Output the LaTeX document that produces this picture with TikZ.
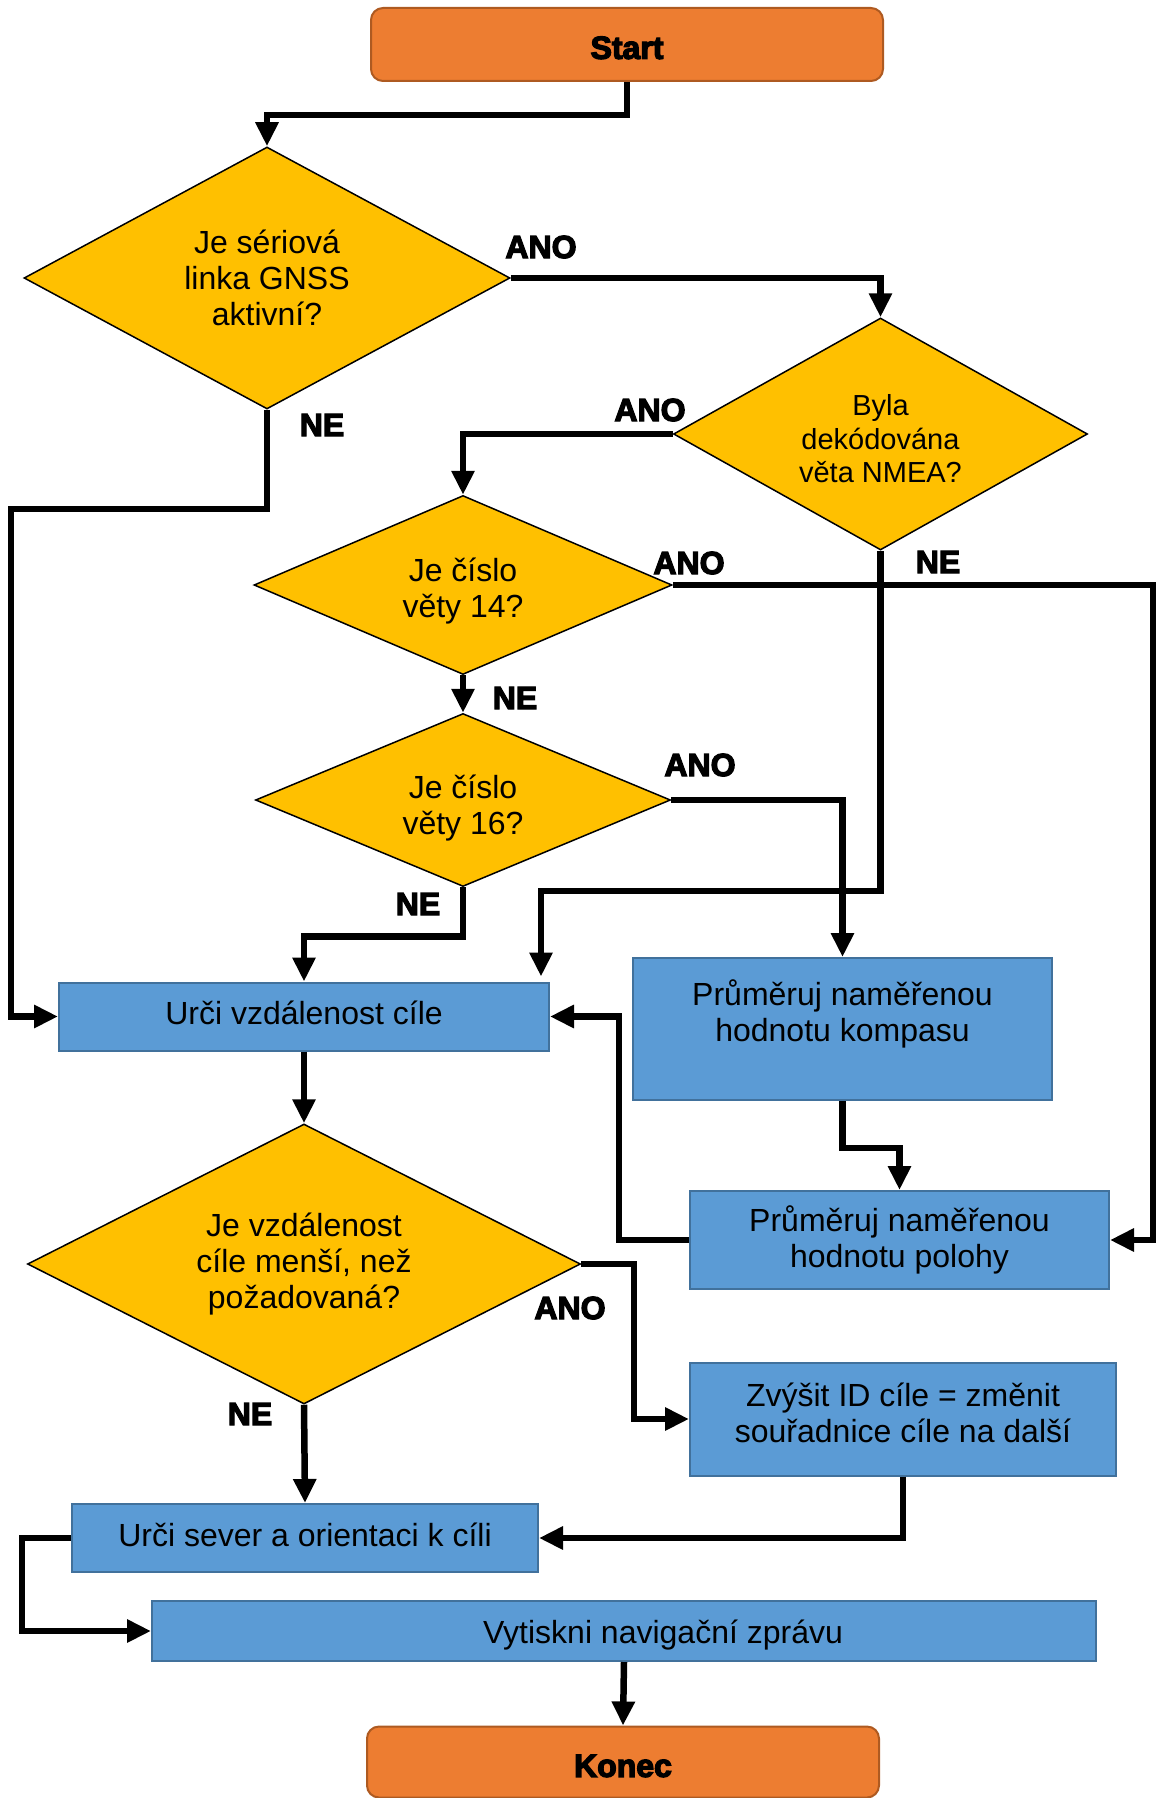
\documentclass[tikz,border=0pt]{standalone}
\usepackage{fontspec}
\setmainfont{Liberation Sans}
\newfontfamily\heavyfont[FakeBold=4]{Liberation Sans Bold}
\usetikzlibrary{
    arrows.meta,      % For the triangle arrow tips
    shapes.geometric  % For the decision diamonds
}

\definecolor{boxorange}{HTML}{ED7D31}
\definecolor{orangeline}{HTML}{AE5A21}
\definecolor{boxblue}{HTML}{5B9BD5}
\definecolor{blueline}{HTML}{41719C}
\definecolor{gold}{HTML}{FFC000}

% Invisible struts to nudge text inside a node
\newcommand{\padtop}[1]{\rule{0pt}{#1}}
\newcommand{\padbottom}[1]{\rule[-#1]{0pt}{0pt}}

\begin{document}
\begin{tikzpicture}[
    x=1pt, y=-1pt, % one unit = one pixel of the original, y pointing down
    font=\fontsize{32}{36}\selectfont,
    process_style/.style={rectangle, draw=blueline, line width=2pt, fill=boxblue, inner sep=0pt, align=center},
    decision_style/.style={diamond, draw=black, line width=1.5pt, fill=gold, inner sep=0pt, align=center},
    terminal_style/.style={rectangle, rounded corners=12pt, draw=orangeline, line width=2pt, fill=boxorange, inner sep=0pt, font=\heavyfont\fontsize{32}{36}\selectfont},
    line_style/.style={line width=6.5pt, -{Triangle[length=24pt,width=22pt]}},
    label_style/.style={font=\heavyfont\fontsize{32}{36}\selectfont}
]
    % Fix the page to the size of the original
    \useasboundingbox (0,0) rectangle (1161,1798);

    % Start and the GNSS checks
    \node[terminal_style, minimum width=512pt, minimum height=73pt] (start) at (627,44.5) {\padtop{29pt}Start};
    \node[decision_style, aspect=1.85, minimum width=486pt, minimum height=262pt] (serial) at (267,278) {Je sériová\\linka GNSS\\aktivní?};
    \node[decision_style, aspect=1.78, minimum width=414pt, minimum height=232pt, font=\fontsize{29}{33.5}\selectfont] (nmea) at (880.5,434) {\padtop{31pt}Byla\\dekódována\\věta NMEA?};
    \node[decision_style, aspect=2.34, minimum width=418pt, minimum height=179pt] (vet14) at (463,585) {\padtop{36pt}Je číslo\\věty 14?};
    \node[decision_style, aspect=2.4, minimum width=415pt, minimum height=173pt] (vet16) at (463,800) {\padtop{40pt}Je číslo\\věty 16?};

    % Processing boxes
    \node[process_style, minimum width=490pt, minimum height=68pt] (dist) at (304,1016.5) {Urči vzdálenost cíle\padbottom{7pt}};
    \node[process_style, minimum width=419pt, minimum height=142pt] (compass) at (842.5,1029) {Průměruj naměřenou\\hodnotu kompasu\\\mbox{}};
    \node[process_style, minimum width=419pt, minimum height=98pt] (position) at (899.5,1240) {Průměruj naměřenou\\hodnotu polohy};
    \node[decision_style, aspect=1.975, minimum width=553pt, minimum height=280pt] (near) at (304,1264) {Je vzdálenost\\cíle menší, než\\požadovaná?};
    \node[process_style, minimum width=426pt, minimum height=113pt] (nextwp) at (903,1419) {Zvýšit ID cíle = změnit\\souřadnice cíle na další\padbottom{12pt}};
    \node[process_style, minimum width=466pt, minimum height=68pt] (heading) at (305,1538) {Urči sever a orientaci k cíli\padbottom{7pt}};
    \node[process_style, minimum width=944pt, minimum height=60pt] (print) at (624,1631) {\hspace*{78pt}\padtop{31pt}Vytiskni navigační zprávu};
    \node[terminal_style, minimum width=512pt, minimum height=71pt] (stop) at (623,1762) {\padtop{30pt}Konec};

    % Branch labels
    \node[label_style] (ano1) at (541,247) {ANO};
    \node[label_style] (ne1) at (322,425) {NE};
    \node[label_style] (ano2) at (650,410) {ANO};
    \node[label_style] (ano3) at (689,563) {ANO};
    \node[label_style] (ne2) at (938,562) {NE};
    \node[label_style] (ne3) at (515,698) {NE};
    \node[label_style] (ano4) at (700,765) {ANO};
    \node[label_style] (ne4) at (418,904) {NE};
    \node[label_style] (ano5) at (570,1308) {ANO};
    \node[label_style] (ne5) at (250,1414) {NE};

    % Connectors
    \coordinate (nmeaturn) at (541,891);
    \draw[line_style] (start.south) -- ++(0,33) -| (serial.north);
    \draw[line_style] (serial.east) -| (nmea.north);
    \draw[line_style] (nmea.west) -| (vet14.north);
    \draw[line_style] (serial.south) |- (11,509) |- (dist.west);
    \draw[line_style] (vet14.east) -| (1153,1100) |- (position.east);
    \draw[line_style, shorten >=5pt] (nmea.south) |- (nmeaturn) -- (nmeaturn |- dist.north);
    \draw[line_style] (vet14.south) -- (vet16.north);
    \draw[line_style] (vet16.east) -| (compass.north);
    \draw[line_style] (vet16.south) -- ++(0,49) -| (dist.north);
    \draw[line_style] (dist.south) -- (near.north);
    \draw[line_style] (compass.south) -- ++(0,47) -| (position.north);
    \draw[line_style] (position.west) -| (619,1100) |- (dist.east);
    \draw[line_style] (near.east) -| (634,1350) |- (nextwp.west);
    \draw[line_style] (near.south) -- (heading.north);
    \draw[line_style] (nextwp.south) |- (heading.east);
    \draw[line_style] (heading.west) -| (22,1600) |- (print.west);
    \draw[line_style] (print.south) -- (stop.north);
\end{tikzpicture}
\end{document}
